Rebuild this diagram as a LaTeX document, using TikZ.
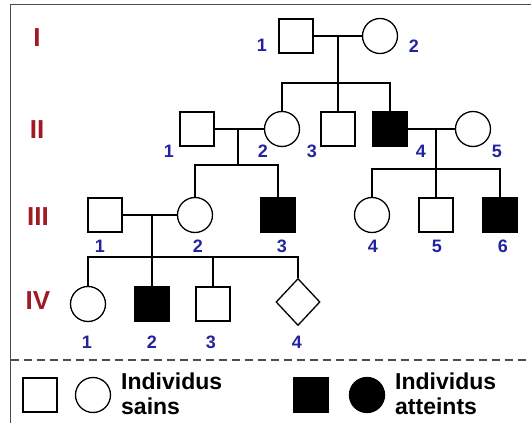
\documentclass[tikz,border=0pt]{standalone}
\usepackage{fontspec}
\setmainfont{Liberation Sans}
\usetikzlibrary{shapes.geometric}
\definecolor{numblue}{RGB}{35,35,160}
\definecolor{genred}{RGB}{160,25,35}
\tikzset{
	male/.style={draw,rectangle,minimum size=34pt,inner sep=0pt,line width=1.3pt},
	female/.style={draw,circle,minimum size=35pt,inner sep=0pt,line width=1.3pt},
	unknown/.style={draw,diamond,minimum width=44pt,minimum height=47pt,inner sep=0pt,line width=1.3pt},
	ill/.style={fill=black},
	num/.style={text=numblue,font=\fontsize{18}{20}\selectfont\bfseries},
	gen/.style={text=genred,font=\fontsize{26}{28}\selectfont\bfseries},
	legtext/.style={anchor=base west,align=left,inner sep=0pt,font=\fontsize{23}{25}\selectfont\bfseries},
	link/.style={line width=1.2pt}
}
\begin{document}
\begin{tikzpicture}[x=1pt,y=-1pt]
	\useasboundingbox (0,0) rectangle (531,423);
	\draw[line width=1.5pt,black!70] (10.5,423) -- (10.5,4.5) -- (531,4.5);
	\draw[line width=1.3pt,black!70,dash pattern=on 8pt off 5pt] (10.5,360) -- (531,360);

	\node[gen] (gI) at (37,38) {I};
	\node[gen] (gII) at (37,130) {II};
	\node[gen] (gIII) at (38,217) {III};
	\node[gen] (gIV) at (38,301) {IV};

	\node[male] (I1) at (296,36) {};
	\node[female] (I2) at (380,36) {};
	\node[num] (nI1) at (262,45) {1};
	\node[num] (nI2) at (414,46) {2};

	\node[male] (II1) at (197,129) {};
	\node[female] (II2) at (282,129) {};
	\node[male] (II3) at (338,129) {};
	\node[male,ill] (II4) at (390,129) {};
	\node[female] (II5) at (473,129) {};
	\node[num] (nII1) at (169,151) {1};
	\node[num] (nII2) at (263,151) {2};
	\node[num] (nII3) at (312,151) {3};
	\node[num] (nII4) at (421,151) {4};
	\node[num] (nII5) at (497,151) {5};

	\node[male] (III1) at (105,215) {};
	\node[female] (III2) at (195,215) {};
	\node[male,ill] (III3) at (278,215) {};
	\node[female] (III4) at (372,215) {};
	\node[male] (III5) at (436,215) {};
	\node[male,ill] (III6) at (500,215) {};
	\node[num] (nIII1) at (100,246) {1};
	\node[num] (nIII2) at (198,246) {2};
	\node[num] (nIII3) at (282,246) {3};
	\node[num] (nIII4) at (373,246) {4};
	\node[num] (nIII5) at (437,246) {5};
	\node[num] (nIII6) at (503,246) {6};

	\node[female] (IV1) at (88,304) {};
	\node[male,ill] (IV2) at (152,304) {};
	\node[male] (IV3) at (213,304) {};
	\node[unknown] (IV4) at (298,302) {};
	\node[num] (nIV1) at (87,342) {1};
	\node[num] (nIV2) at (152,342) {2};
	\node[num] (nIV3) at (211,342) {3};
	\node[num] (nIV4) at (297,342) {4};

	\coordinate (cI) at (338,36);
	\coordinate (sI) at (338,83);
	\draw[link] (I1) -- (I2);
	\draw[link] (cI) -- (sI);
	\draw[link] (II2) |- (sI) -| (II4);
	\draw[link] (sI) -- (II3);

	\coordinate (cII) at (238,129);
	\coordinate (sII) at (238,165);
	\draw[link] (II1) -- (II2);
	\draw[link] (cII) -- (sII);
	\draw[link] (III2) |- (sII) -| (III3);

	\coordinate (cIIb) at (436,129);
	\coordinate (sIIb) at (436,169);
	\draw[link] (II4) -- (II5);
	\draw[link] (cIIb) -- (sIIb);
	\draw[link] (III4) |- (sIIb) -| (III6);
	\draw[link] (sIIb) -- (III5);

	\coordinate (cIII) at (152,215);
	\coordinate (sIII) at (152,257);
	\draw[link] (III1) -- (III2);
	\draw[link] (cIII) -- (sIII);
	\draw[link] (IV1) |- (sIII) -| (IV4);
	\draw[link] (sIII) -- (IV2);
	\draw[link] (IV3) |- (sIII);

	\node[male] (Lm) at (40,395) {};
	\node[female] (Lf) at (93,395) {};
	\node[legtext] (Ls) at (121,414) {Individus\\sains};
	\node[male,ill] (La) at (311,395) {};
	\node[female,ill] (Lb) at (367,395) {};
	\node[legtext] (Lt) at (395,414) {Individus\\atteints};
\end{tikzpicture}
\end{document}
